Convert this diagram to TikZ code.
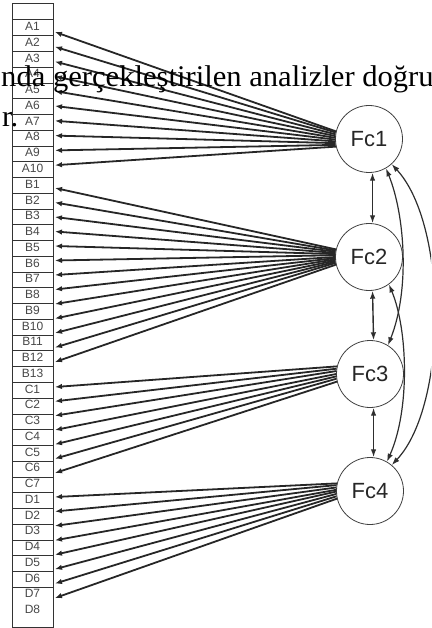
\documentclass[tikz,border=0pt]{standalone}
\usepackage{fontspec}
\setmainfont{Liberation Serif}
\newfontfamily\labelfont{Liberation Sans}
\usetikzlibrary{arrows.meta,calc}

\begin{document}
\begin{tikzpicture}[x=1pt,y=-1pt,
  itemlabel/.style={font=\labelfont\fontsize{12}{12}\selectfont, text=black!72, inner sep=0pt},
  boxline/.style={draw=black!80, line width=1pt},
  factor/.style={circle, draw=black!75, line width=0.8pt, minimum size=67pt, inner sep=0pt,
    font=\labelfont\fontsize{22}{22}\selectfont, text=black!85},
  loading/.style={draw=black!85, line width=1.8pt, -{Latex[length=7pt,width=5.5pt]}},
  covar/.style={draw=black!82, line width=1.4pt, {Latex[length=8pt,width=5.5pt]}-{Latex[length=8pt,width=5.5pt]}},
  pagetext/.style={anchor=base west, inner sep=0pt, font=\fontsize{30}{30}\selectfont, text=black},
]
\useasboundingbox (0,0) rectangle (431,628);
\clip (0,0) rectangle (431,628);

% item column
\draw[boxline] (12,4) rectangle (53,627);
\draw[boxline] (12,20) -- (53,20);
\foreach \k in {1,...,36}
  \draw[boxline] (12,{20+\k*15.76}) -- (53,{20+\k*15.76});
\foreach \lab [count=\i] in {A1,A2,A3,A4,A5,A6,A7,A8,A9,A10,
    B1,B2,B3,B4,B5,B6,B7,B8,B9,B10,B11,B12,B13,
    C1,C2,C3,C4,C5,C6,C7,
    D1,D2,D3,D4,D5,D6,D7,D8}
  \node[itemlabel] (\lab) at (32.5,{28+15.76*(\i-1)-1.5}) {\lab};

% arrow ends at the right edge of the column
\foreach \i in {1,...,10}  \coordinate (tA\i) at (55,{32+14.8*(\i-1)});
\foreach \i in {1,...,13}  \coordinate (tB\i) at (55,{188+14.5*(\i-1)});
\foreach \i in {1,...,7}   \coordinate (tC\i) at (55,{387+14.33*(\i-1)});
\foreach \i in {1,...,8}   \coordinate (tD\i) at (55,{497+14.43*(\i-1)});

% factors
\node[factor] (f1) at (369,139) {Fc1};
\node[factor] (f2) at (369,257) {Fc2};
\node[factor] (f3) at (370,374) {Fc3};
\node[factor] (f4) at (370,491) {Fc4};

% loadings
\foreach \i [evaluate=\i as \ang using {167+26*(\i-1)/9}] in {1,...,10}
  \draw[loading] (f1.\ang) -- (tA\i);
\foreach \i [evaluate=\i as \ang using {167+26*(\i-1)/12}] in {1,...,13}
  \draw[loading] (f2.\ang) -- (tB\i);
\foreach \i [evaluate=\i as \ang using {167+26*(\i-1)/6}] in {1,...,7}
  \draw[loading] (f3.\ang) -- (tC\i);
\foreach \i [evaluate=\i as \ang using {167+26*(\i-1)/7}] in {1,...,8}
  \draw[loading] (f4.\ang) -- (tD\i);

% covariances between neighbouring factors
\draw[covar] (f1.-84) -- (f2.84);
\draw[covar] (f2.-84) -- (f3.84);
\draw[covar] (f3.-84) -- (f4.84);

% covariances drawn as curves on the right
\draw[covar, line width=1.2pt] (f1.-60) .. controls (405,215) and (410,290) .. (f3.58);
\draw[covar, line width=1.2pt] (f2.-54) .. controls (408,330) and (410,410) .. (f4.60);
\draw[covar, line width=1.2pt] (f1.-48) .. controls (448,225) and (448,405) .. (f4.50);

% page text printed over the figure
\node[pagetext] (line1) at (1,87) {\scalebox{1.02}[1]{nda gerçekleştirilen analizler doğru}};
\node[pagetext] (line2) at (2,127) {\scalebox{1.02}[1]{r.}};
\end{tikzpicture}
\end{document}
